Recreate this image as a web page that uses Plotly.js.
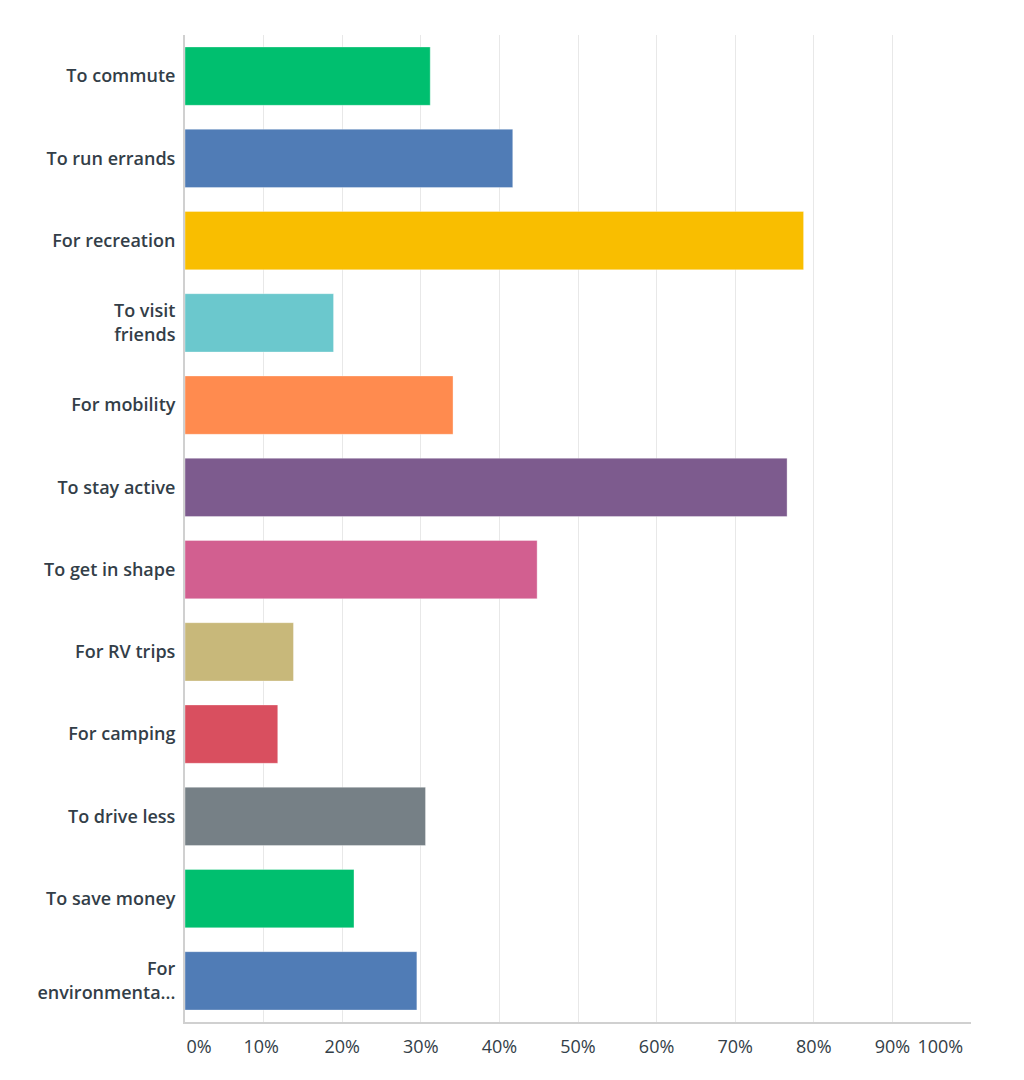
<!DOCTYPE html>
<html>
<head>
<meta charset="utf-8">
<script src="https://cdn.plot.ly/plotly-3.0.1.min.js"></script>
<style>html,body{margin:0;padding:0;background:#fff;}#chart{width:1024px;height:1080px;}</style>
</head>
<body>
<div id="chart"></div>
<script>
const categories = [
  "To commute", "To run errands", "For recreation", "To visit<br>friends",
  "For mobility", "To stay active", "To get in shape", "For RV trips",
  "For camping", "To drive less", "To save money", "For<br>environmenta..."
];
const percentages = [31.2, 41.7, 78.7, 18.9, 34.1, 76.6, 44.8, 13.8, 11.8, 30.6, 21.5, 29.5];
const barColors = ["#00BF6F", "#507CB6", "#F9BE00", "#6BC8CD", "#FF8B4F", "#7D5B8E",
                   "#D25F90", "#C8B87A", "#D94F5F", "#768086", "#00BF6F", "#507CB6"];
const xTickLabels = ["0%", "10%", "20%", "30%", "40%", "50%", "60%", "70%", "80%", "90%", "100%"];
const xTickPositions = [1.8, 9.7, 20, 30, 40, 50, 60, 70, 80, 90, 96.1];

const trace = {
  type: "bar",
  orientation: "h",
  x: percentages,
  y: categories,
  marker: { color: barColors, line: { color: "rgba(255,255,255,0.35)", width: 1 } },
  hoverinfo: "x+y"
};
const labelTrace = {
  type: "bar", orientation: "h", x: [], y: [], xaxis: "x2", yaxis: "y",
  showlegend: false, hoverinfo: "skip"
};

const layout = {
  width: 1024, height: 1080,
  margin: { l: 185, r: 53, t: 35, b: 58 },
  paper_bgcolor: "#ffffff", plot_bgcolor: "#ffffff",
  showlegend: false,
  bargap: 0.29,
  font: { family: "Open Sans, sans-serif", color: "#333E48" },
  xaxis: {
    range: [0, 100], dtick: 10, showticklabels: false,
    showgrid: true, gridcolor: "#E8E8E8", gridwidth: 1,
    zeroline: false, showline: true, linecolor: "#D0D0D0", linewidth: 2,
    ticks: "", fixedrange: true
  },
  xaxis2: {
    overlaying: "x", side: "bottom", range: [0, 100],
    tickmode: "array", tickvals: xTickPositions, ticktext: xTickLabels,
    showgrid: false, zeroline: false, showline: false, ticks: "",
    ticklabelstandoff: 12,
    tickfont: { family: "Open Sans, sans-serif", size: 18, color: "#333E48", weight: 500 }
  },
  yaxis: {
    autorange: "reversed", type: "category",
    showgrid: false, zeroline: false, showline: true, linecolor: "#D0D0D0", linewidth: 2,
    ticks: "", ticklabelstandoff: 4,
    tickfont: { family: "Open Sans, sans-serif", size: 18, color: "#333E48", weight: 600 }
  }
};

Plotly.newPlot("chart", [trace, labelTrace], layout, { displayModeBar: false, staticPlot: true });
</script>
</body>
</html>
